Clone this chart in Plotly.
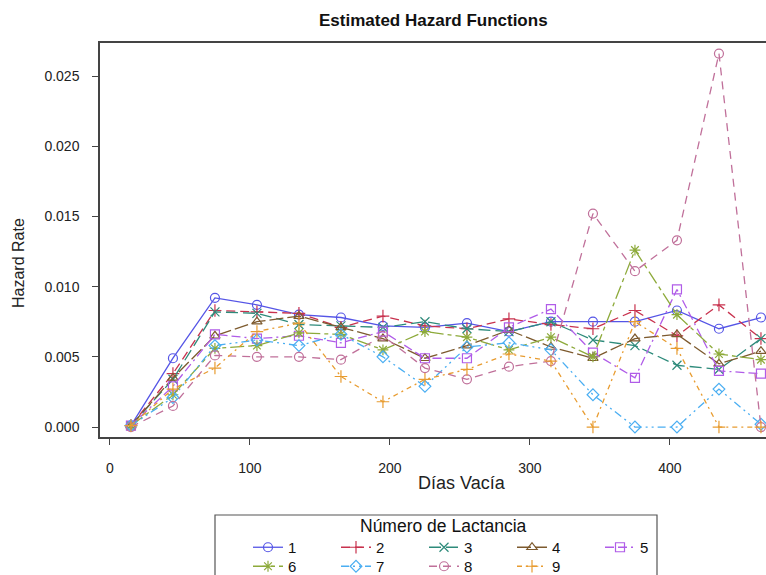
import plotly.graph_objects as go

dias = [15, 45, 75, 105, 135, 165, 195, 225, 255, 285, 315, 345, 375, 405, 435, 465]

lact1 = [0.0001, 0.0049, 0.0092, 0.0087, 0.0080, 0.0078, 0.0072, 0.0071, 0.0074, 0.0068, 0.0075, 0.0075, 0.0075, 0.0083, 0.0070, 0.0078]
lact2 = [0.0001, 0.0038, 0.0083, 0.0082, 0.0081, 0.0071, 0.0079, 0.0072, 0.0070, 0.0077, 0.0073, 0.0070, 0.0083, 0.0065, 0.0087, 0.0063]
lact3 = [0.0001, 0.0034, 0.0082, 0.0081, 0.0073, 0.0072, 0.0071, 0.0075, 0.0070, 0.0068, 0.0075, 0.0062, 0.0058, 0.0044, 0.0041, 0.0063]
lact4 = [0.0001, 0.0035, 0.0065, 0.0075, 0.0079, 0.0071, 0.0063, 0.0049, 0.0058, 0.0069, 0.0057, 0.0049, 0.0063, 0.0066, 0.0045, 0.0054]
lact5 = [0.0001, 0.0029, 0.0066, 0.0063, 0.0065, 0.0060, 0.0068, 0.0049, 0.0049, 0.0071, 0.0084, 0.0053, 0.0035, 0.0098, 0.0040, 0.0038]
lact6 = [0.0001, 0.0023, 0.0056, 0.0058, 0.0067, 0.0066, 0.0055, 0.0068, 0.0064, 0.0055, 0.0064, 0.0050, 0.0126, 0.0080, 0.0052, 0.0048]
lact7 = [0.0001, 0.0021, 0.0058, 0.0062, 0.0058, 0.0066, 0.0050, 0.0029, 0.0057, 0.0060, 0.0055, 0.0023, 0.0000, 0.0000, 0.0027, 0.0002]
lact8 = [0.0000, 0.0015, 0.0051, 0.0050, 0.0050, 0.0048, 0.0065, 0.0042, 0.0034, 0.0043, 0.0047, 0.0152, 0.0111, 0.0133, 0.0266, 0.0000]
lact9 = [0.0001, 0.0027, 0.0042, 0.0068, 0.0074, 0.0036, 0.0018, 0.0034, 0.0041, 0.0052, 0.0047, 0.0000, 0.0075, 0.0056, 0.0000, 0.0000]

series_names = ["1", "2", "3", "4", "5", "6", "7", "8", "9"]
series_values = [lact1, lact2, lact3, lact4, lact5, lact6, lact7, lact8, lact9]

colors = ["#5555E6", "#C8324E", "#2E8B7B", "#7D5A2E", "#B05CE8", "#8DAA3A", "#4AAEF2", "#C0709A", "#E89C30"]
symbols = ["circle-open", "cross-thin-open", "x-thin-open", "triangle-up-open", "square-open",
           "asterisk-open", "diamond-open", "circle-open", "cross-thin-open"]
dashes = ["solid", "9px,5px", "12px,5px", "14px,4px", "9px,4px,9px,4px,2px,4px",
          "14px,4px,4px,4px", "8px,4px,2px,4px,2px,4px", "8px,6px", "5px,4px,2px,4px"]

yticks = [0.000, 0.005, 0.010, 0.015, 0.020, 0.025]
yticklabels = ["0.000", "0.005", "0.010", "0.015", "0.020", "0.025"]
xticks = [0, 100, 200, 300, 400]

fig = go.Figure()
for i, (name, vals) in enumerate(zip(series_names, series_values)):
    fig.add_trace(go.Scatter(
        x=dias, y=vals, name=name, mode="lines+markers",
        line=dict(color=colors[i], width=1.3, dash=dashes[i]),
        marker=dict(symbol=symbols[i], size=9, color=colors[i], line=dict(width=1.2, color=colors[i])),
        legend="legend" if i < 5 else "legend2",
    ))

W, H = 766, 575
L, R, T, B = 100, 0, 43, 138
pw, ph = W - L - R, H - T - B

def px_x(p):
    return (p - L) / pw

def px_y(p):
    return (H - B - p) / ph

font = "Liberation Sans, Arial, sans-serif"
fig.update_layout(
    width=W, height=H,
    margin=dict(l=L, r=R, t=T, b=B, autoexpand=False),
    paper_bgcolor="white", plot_bgcolor="white",
    font=dict(family=font, color="#222222", size=12),
    showlegend=True,
    legend=dict(orientation="h", x=px_x(248), y=px_y(531), xanchor="left", yanchor="top",
                entrywidth=43, entrywidthmode="pixels", font=dict(size=15, color="#111111"),
                bgcolor="rgba(0,0,0,0)", borderwidth=0, traceorder="normal"),
    legend2=dict(orientation="h", x=px_x(248), y=px_y(550), xanchor="left", yanchor="top",
                 entrywidth=43, entrywidthmode="pixels", font=dict(size=15, color="#111111"),
                 bgcolor="rgba(0,0,0,0)", borderwidth=0, traceorder="normal"),
    xaxis=dict(range=[-7.1, 468.6], tickvals=xticks, showgrid=False, zeroline=False,
               showline=True, mirror=True, linecolor="#444444", linewidth=1.5,
               ticks="outside", ticklen=6, tickcolor="#444444", ticklabelstandoff=11,
               tickfont=dict(size=14, color="#222222")),
    yaxis=dict(range=[-0.00071, 0.02735], tickvals=yticks, ticktext=yticklabels,
               showgrid=False, zeroline=False,
               showline=True, mirror=False, linecolor="#444444", linewidth=1.5,
               ticks="outside", ticklen=6, tickcolor="#444444", ticklabelstandoff=10,
               tickfont=dict(size=14, color="#222222")),
    shapes=[dict(type="rect", xref="paper", yref="paper",
                 x0=px_x(215), x1=px_x(657), y0=px_y(620), y1=px_y(515),
                 line=dict(color="#555555", width=1.2), fillcolor="rgba(0,0,0,0)")],
    annotations=[
        dict(text="<b>Estimated Hazard Functions</b>", xref="paper", yref="paper",
             x=px_x(433), y=px_y(20), xanchor="center", yanchor="middle", showarrow=False,
             font=dict(size=17, color="#111111", family=font)),
        dict(text="Días Vacía", xref="paper", yref="paper",
             x=px_x(462), y=px_y(483), xanchor="center", yanchor="middle", showarrow=False,
             font=dict(size=18, color="#222222", family=font)),
        dict(text="Hazard Rate", xref="paper", yref="paper", textangle=-90,
             x=px_x(18), y=px_y(263), xanchor="center", yanchor="middle", showarrow=False,
             font=dict(size=16, color="#222222", family=font)),
        dict(text="Número de Lactancia", xref="paper", yref="paper",
             x=px_x(443), y=px_y(526), xanchor="center", yanchor="middle", showarrow=False,
             font=dict(size=17.5, color="#111111", family=font)),
    ],
)

fig.write_html("out.html")
